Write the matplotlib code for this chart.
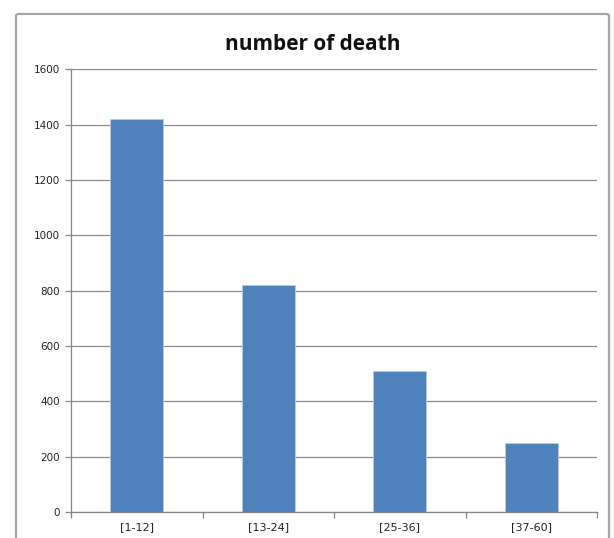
import matplotlib
matplotlib.use("Agg")
import matplotlib.pyplot as plt
from matplotlib.patches import FancyBboxPatch
import numpy as np

categories = ["[1-12]", "[13-24]", "[25-36]", "[37-60]"]
deaths = [1420, 820, 510, 250]
y_ticks = [0, 200, 400, 600, 800, 1000, 1200, 1400, 1600]
title = "number of death"

W, H = 614, 538
fig = plt.figure(figsize=(W / 100, H / 100), dpi=100)
fig.patch.set_facecolor("white")

# chart frame
frame = FancyBboxPatch((16 / W, -10 / H), (609 - 16) / W, (H - 14 + 10) / H,
                       boxstyle="round,pad=0,rounding_size=0.004",
                       transform=fig.transFigure, fill=False,
                       edgecolor="#a6a6a6", linewidth=1.6, clip_on=False)
fig.patches.append(frame)

ax = fig.add_axes([71 / W, (H - 512) / H, (597 - 71) / W, (512 - 69.3) / H])
x = np.arange(len(categories))
ax.bar(x, deaths, width=0.4, color="#4f81bd", edgecolor="#b8cce4",
       linewidth=0.6, zorder=3)

ax.set_xlim(-0.5, len(categories) - 0.5)
ax.set_ylim(0, 1600)
ax.set_yticks(y_ticks)
ax.set_yticklabels([str(v) for v in y_ticks], fontsize=7.5, color="#222222",
                   family="DejaVu Sans")
ax.set_xticks(x)
ax.set_xticklabels(categories, fontsize=8, color="#222222", family="DejaVu Sans")
ax.tick_params(axis="x", length=0, pad=7)
ax.tick_params(axis="y", length=4, width=0.9, color="#868686", pad=4)

# category boundary ticks on x axis
ax.set_xticks(np.arange(-0.5, len(categories)), minor=True)
ax.tick_params(axis="x", which="minor", length=4, width=0.9, color="#868686",
               direction="out")

ax.yaxis.grid(True, color="#8c8c8c", linewidth=0.9, zorder=0)
ax.set_axisbelow(True)
for side in ["top", "right"]:
    ax.spines[side].set_visible(False)
for side in ["left", "bottom"]:
    ax.spines[side].set_color("#868686")
    ax.spines[side].set_linewidth(0.9)

fig.text(313 / W, 1 - 44 / H, title, ha="center", va="center",
         fontsize=15, fontweight="bold", family="Open Sans", color="#111111")

fig.savefig("out.png", dpi=100, facecolor="white")
